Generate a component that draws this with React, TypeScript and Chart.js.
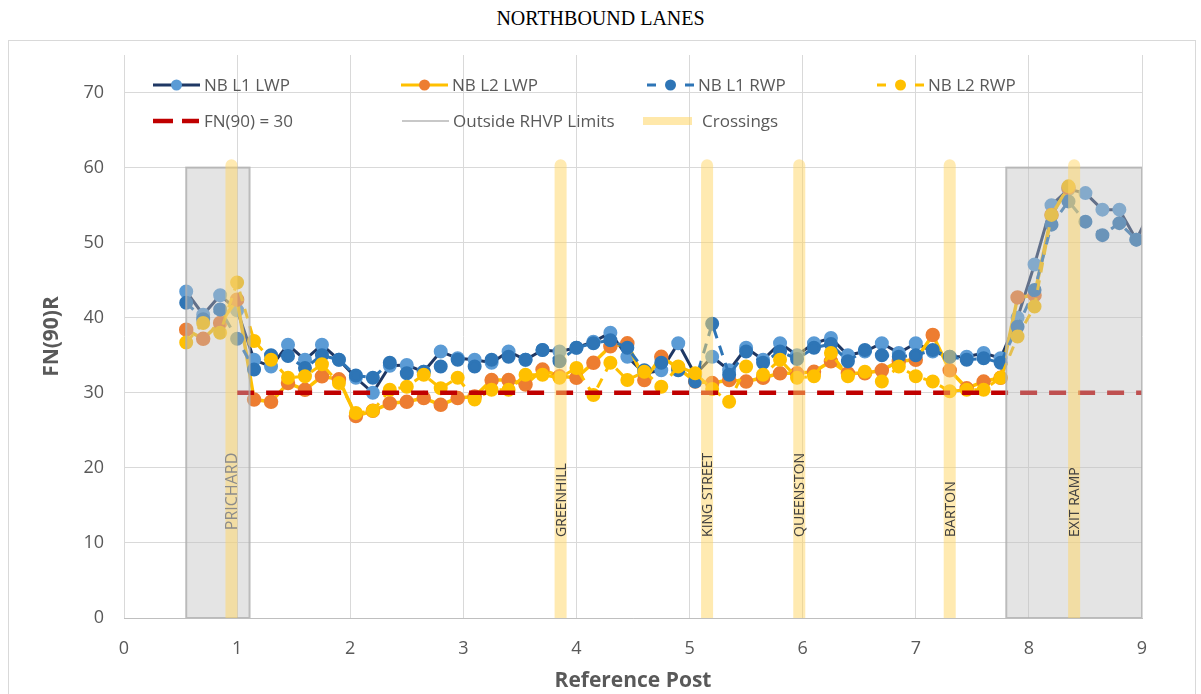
import React, { useEffect, useRef } from "react";
import { Chart, registerables } from "chart.js";

Chart.register(...registerables);

// ---------- DATA ----------
const POSTS = [
  0.55, 0.7, 0.85, 1.0, 1.15, 1.3, 1.45, 1.6, 1.75, 1.9,
  2.05, 2.2, 2.35, 2.5, 2.65, 2.8, 2.95, 3.1, 3.25, 3.4,
  3.55, 3.7, 3.85, 4.0, 4.15, 4.3, 4.45, 4.6, 4.75, 4.9,
  5.05, 5.2, 5.35, 5.5, 5.65, 5.8, 5.95, 6.1, 6.25, 6.4,
  6.55, 6.7, 6.85, 7.0, 7.15, 7.3, 7.45, 7.6, 7.75, 7.9,
  8.05, 8.2, 8.35, 8.5, 8.65, 8.8, 8.95, 9.1,
];

const NB_L1_LWP = [
  43.5, 40.4, 43.0, 41.0, 34.4, 33.5, 36.4, 34.4, 36.4, 34.4,
  32.0, 30.0, 33.6, 33.7, 32.8, 35.5, 34.6, 34.4, 34.0, 35.5,
  34.4, 35.7, 35.5, 36.0, 36.8, 38.0, 34.8, 32.6, 33.0, 36.6,
  32.4, 34.8, 33.0, 36.0, 34.4, 36.6, 35.0, 36.6, 37.3, 35.0,
  35.5, 36.6, 35.3, 36.6, 35.5, 34.8, 34.8, 35.3, 34.6, 40.0,
  47.1, 55.0, 57.1, 56.6, 54.4, 54.4, 50.4, 55.0,
];

const NB_L2_LWP = [
  38.4, 37.2, 39.3, 42.4, 29.1, 28.8, 31.3, 30.4, 32.2, 31.8,
  26.9, 27.6, 28.6, 28.8, 29.3, 28.4, 29.3, 29.5, 31.7, 31.7,
  31.1, 33.1, 32.2, 32.0, 34.0, 36.2, 36.6, 31.7, 34.8, 33.3,
  31.5, 31.3, 31.7, 31.5, 32.0, 32.6, 32.6, 32.8, 34.2, 32.6,
  32.6, 33.0, 34.2, 34.4, 37.7, 33.0, 30.6, 31.5, 32.0, 42.7,
  43.0, 53.7, 57.3,
];

const NB_L1_RWP = [
  42.0, 39.8, 41.1, 37.2, 33.1, 35.0, 34.9, 33.3, 35.0, 34.4,
  32.3, 32.0, 34.0, 32.6, 32.8, 33.5, 34.4, 33.5, 34.4, 34.8,
  34.4, 35.7, 34.2, 36.0, 36.6, 37.0, 36.0, 33.0, 34.0, 33.0,
  31.5, 39.2, 32.4, 35.5, 34.0, 35.5, 34.5, 36.0, 36.5, 34.2,
  35.7, 35.0, 34.8, 35.0, 35.7, 34.8, 34.4, 34.6, 34.0, 38.8,
  43.7, 52.4, 55.5, 52.8, 51.0, 52.6, 50.4,
];

const NB_L2_RWP = [
  36.7, 39.3, 38.0, 44.7, 36.9, 34.4, 32.0, 32.2, 33.8, 31.3,
  27.3, 27.6, 30.4, 30.8, 32.4, 30.6, 32.0, 29.1, 30.4, 30.4,
  32.4, 32.4, 32.0, 33.3, 29.7, 34.0, 31.7, 32.8, 30.8, 33.5,
  32.6, 30.5, 28.8, 33.5, 32.4, 34.4, 32.0, 32.2, 35.3, 32.2,
  32.8, 31.5, 33.5, 32.2, 31.5, 30.2, 30.4, 30.4, 32.0, 37.5,
  41.5, 53.7, 57.5,
];

const THRESHOLD = 30;
const THRESHOLD_RANGE = [1.0, 9.0];

const OUTSIDE_ZONES = [
  [0.55, 1.11],
  [7.8, 9.0],
];
const OUTSIDE_TOP = 60;

const CROSSING_NAMES = ["PRICHARD", "GREENHILL", "KING STREET", "QUEENSTON", "BARTON", "EXIT RAMP"];
const CROSSING_POSTS = [0.95, 3.86, 5.155, 5.97, 7.3, 8.4];
const CROSSING_TOP = 60.3;
const CROSSING_LABEL_BASE = [11.7, 10.8, 10.8, 10.8, 10.8, 10.8];

const X_TICKS = [0, 1, 2, 3, 4, 5, 6, 7, 8, 9];
const Y_TICKS = [0, 10, 20, 30, 40, 50, 60, 70];

const TITLE = "NORTHBOUND LANES";
const X_TITLE = "Reference Post";
const Y_TITLE = "FN(90)R";

// ---------- STYLE ----------
const FONT = '"Open Sans", "Noto Sans", sans-serif';
const TEXT = "#595959";

const toPts = (vals: number[]) => vals.map((v, i) => ({ x: POSTS[i], y: v }));

const legendItems = [
  { label: "NB L1 LWP", kind: "solid", color: "#1F3864", point: "#5B9BD5", x: 144, y: 44 },
  { label: "NB L2 LWP", kind: "solid", color: "#FFC000", point: "#ED7D31", x: 392, y: 44 },
  { label: "NB L1 RWP", kind: "dash", color: "#2E75B6", point: "#2E75B6", x: 638, y: 44 },
  { label: "NB L2 RWP", kind: "dash", color: "#FFC000", point: "#FFC000", x: 868, y: 44 },
  { label: "FN(90) = 30", kind: "red", color: "#C00000", point: null, x: 144, y: 80 },
  { label: "Outside RHVP Limits", kind: "gray", color: "#C8C8C8", point: null, x: 393, y: 80 },
  { label: "Crossings", kind: "band", color: "rgba(255,214,100,0.55)", point: null, x: 634, y: 80 },
];

const overlayPlugin = {
  id: "overlayPlugin",
  afterDatasetsDraw(chart: any) {
    const { ctx, chartArea } = chart;
    const xs = chart.scales.x;
    const ys = chart.scales.y;
    ctx.save();
    ctx.beginPath();
    ctx.rect(chartArea.left, chartArea.top, chartArea.right - chartArea.left, chartArea.bottom - chartArea.top);
    ctx.clip();
    // outside zones
    OUTSIDE_ZONES.forEach(([a, b]) => {
      const x0 = xs.getPixelForValue(a);
      const x1 = xs.getPixelForValue(b);
      const yb = ys.getPixelForValue(0);
      const yt = ys.getPixelForValue(OUTSIDE_TOP);
      ctx.fillStyle = "rgba(190,190,190,0.42)";
      ctx.fillRect(x0, yt, x1 - x0, yb - yt);
      ctx.strokeStyle = "rgba(175,175,175,0.8)";
      ctx.lineWidth = 2;
      ctx.strokeRect(x0, yt, x1 - x0, yb - yt);
    });
    // crossings
    ctx.strokeStyle = "rgba(255,214,100,0.5)";
    ctx.lineWidth = 12;
    ctx.lineCap = "round";
    CROSSING_POSTS.forEach((p) => {
      const px = xs.getPixelForValue(p);
      ctx.beginPath();
      ctx.moveTo(px, ys.getPixelForValue(0) + 8);
      ctx.lineTo(px, ys.getPixelForValue(CROSSING_TOP));
      ctx.stroke();
    });
    ctx.restore();

    // crossing labels
    ctx.save();
    ctx.textAlign = "left";
    ctx.textBaseline = "middle";
    CROSSING_NAMES.forEach((name, i) => {
      const px = xs.getPixelForValue(CROSSING_POSTS[i]);
      const py = ys.getPixelForValue(CROSSING_LABEL_BASE[i]);
      ctx.save();
      ctx.translate(px + 1, py);
      ctx.rotate(-Math.PI / 2);
      ctx.font = i === 0 ? `16px ${FONT}` : `14px ${FONT}`;
      ctx.fillStyle = i === 0 ? "#8C8C8C" : "#404040";
      ctx.fillText(name, 0, 0);
      ctx.restore();
    });
    ctx.restore();

    // legend
    ctx.save();
    ctx.font = `17px ${FONT}`;
    ctx.textBaseline = "middle";
    ctx.textAlign = "left";
    legendItems.forEach((it) => {
      const { x, y } = it;
      ctx.save();
      if (it.kind === "solid") {
        ctx.strokeStyle = it.color;
        ctx.lineWidth = 3;
        ctx.beginPath();
        ctx.moveTo(x, y);
        ctx.lineTo(x + 47, y);
        ctx.stroke();
      } else if (it.kind === "dash") {
        ctx.strokeStyle = it.color;
        ctx.lineWidth = 3;
        ctx.beginPath();
        ctx.moveTo(x, y);
        ctx.lineTo(x + 9, y);
        ctx.moveTo(x + 38, y);
        ctx.lineTo(x + 47, y);
        ctx.stroke();
      } else if (it.kind === "red") {
        ctx.strokeStyle = it.color;
        ctx.lineWidth = 4.5;
        ctx.beginPath();
        ctx.moveTo(x, y);
        ctx.lineTo(x + 20, y);
        ctx.moveTo(x + 29, y);
        ctx.lineTo(x + 46, y);
        ctx.stroke();
      } else if (it.kind === "gray") {
        ctx.strokeStyle = it.color;
        ctx.lineWidth = 2;
        ctx.beginPath();
        ctx.moveTo(x, y);
        ctx.lineTo(x + 47, y);
        ctx.stroke();
      } else if (it.kind === "band") {
        ctx.strokeStyle = it.color;
        ctx.lineWidth = 8;
        ctx.beginPath();
        ctx.moveTo(x, y);
        ctx.lineTo(x + 49, y);
        ctx.stroke();
      }
      if (it.point) {
        ctx.fillStyle = it.point;
        ctx.beginPath();
        ctx.arc(x + 23.5, y, 5.5, 0, Math.PI * 2);
        ctx.fill();
      }
      ctx.restore();
      ctx.fillStyle = TEXT;
      ctx.fillText(it.label, x + (it.kind === "band" ? 59 : 51), y + 1);
    });
    ctx.restore();
  },
};

export default function App() {
  const ref = useRef<HTMLCanvasElement | null>(null);

  useEffect(() => {
    if (!ref.current) return;
    const l1lwp = NB_L1_LWP.map((v, i) => ({ x: POSTS[i], y: v }));
    const chart = new Chart(ref.current, {
      type: "line",
      data: {
        datasets: [
          {
            label: "NB L1 LWP",
            data: l1lwp,
            borderColor: "#1F3864",
            borderWidth: 3,
            pointBackgroundColor: "#5B9BD5",
            pointBorderColor: "#5B9BD5",
            pointRadius: 5.5,
            tension: 0,
            order: 5,
          },
          {
            label: "NB L2 LWP",
            data: toPts(NB_L2_LWP),
            borderColor: "#FFC000",
            borderWidth: 3.5,
            pointBackgroundColor: "#ED7D31",
            pointBorderColor: "#ED7D31",
            pointRadius: 5.5,
            tension: 0,
            order: 4,
          },
          {
            label: "NB L1 RWP",
            data: toPts(NB_L1_RWP),
            borderColor: "#2E75B6",
            borderWidth: 3,
            borderDash: [10, 8],
            pointBackgroundColor: "#2E75B6",
            pointBorderColor: "#2E75B6",
            pointRadius: 5.5,
            tension: 0,
            order: 3,
          },
          {
            label: "NB L2 RWP",
            data: toPts(NB_L2_RWP),
            borderColor: "#FFC000",
            borderWidth: 3,
            borderDash: [10, 8],
            pointBackgroundColor: "#FFC000",
            pointBorderColor: "#FFC000",
            pointRadius: 5.5,
            tension: 0,
            order: 2,
          },
          {
            label: "FN(90) = 30",
            data: THRESHOLD_RANGE.map((x) => ({ x, y: THRESHOLD })),
            borderColor: "#C00000",
            borderWidth: 4.5,
            borderDash: [17, 12],
            pointRadius: 0,
            order: 1,
          },
        ],
      },
      options: {
        responsive: false,
        animation: false,
        layout: { padding: { top: 14, right: 51, left: 0, bottom: 0 } },
        plugins: {
          legend: { display: false },
          tooltip: { enabled: false },
          title: { display: false },
        },
        scales: {
          x: {
            type: "linear",
            min: 0,
            max: 9,
            afterFit: (s: any) => {
              s.height = 76;
              s.paddingLeft = 0;
              s.paddingRight = 0;
            },
            afterBuildTicks: (s: any) => {
              s.ticks = X_TICKS.map((v) => ({ value: v }));
            },
            ticks: {
              color: TEXT,
              font: { family: FONT, size: 18 },
              padding: 20,
              maxRotation: 0,
            },
            grid: { color: "#D9D9D9", lineWidth: 1, drawTicks: false },
            border: { color: "#BFBFBF", width: 1 },
            title: {
              display: true,
              text: X_TITLE,
              color: TEXT,
              font: { family: FONT, size: 21, weight: "bold" },
              padding: { top: 0, bottom: 0 },
            },
          },
          y: {
            type: "linear",
            min: 0,
            max: 75,
            afterFit: (s: any) => {
              s.width = 115;
              s.paddingTop = 0;
              s.paddingBottom = 0;
            },
            afterBuildTicks: (s: any) => {
              s.ticks = Y_TICKS.map((v) => ({ value: v }));
            },
            ticks: {
              color: TEXT,
              font: { family: FONT, size: 18 },
              padding: 20,
            },
            grid: { color: "#D9D9D9", lineWidth: 1, drawTicks: false },
            border: { display: false },
            title: {
              display: true,
              text: Y_TITLE,
              color: TEXT,
              font: { family: FONT, size: 21, weight: "bold" },
              padding: { top: 30, bottom: 0 },
            },
          },
        },
      },
      plugins: [overlayPlugin],
    });
    return () => chart.destroy();
  }, []);

  return (
    <div style={{ position: "fixed", left: 0, top: 0, width: 1201, height: 694, background: "#fff", overflow: "hidden" }}>
      <div
        style={{
          position: "absolute",
          left: 0,
          top: 7,
          width: 1201,
          textAlign: "center",
          fontFamily: '"Liberation Serif", "Times New Roman", serif',
          fontSize: 20,
          lineHeight: "22px",
          color: "#000",
        }}
      >
        {TITLE}
      </div>
      <div
        style={{
          position: "absolute",
          left: 8,
          top: 40,
          width: 1186,
          height: 700,
          border: "1px solid #D9D9D9",
        }}
      />
      <canvas
        ref={ref}
        width={1184}
        height={653}
        style={{ position: "absolute", left: 9, top: 41, width: 1184, height: 653 }}
      />
    </div>
  );
}
